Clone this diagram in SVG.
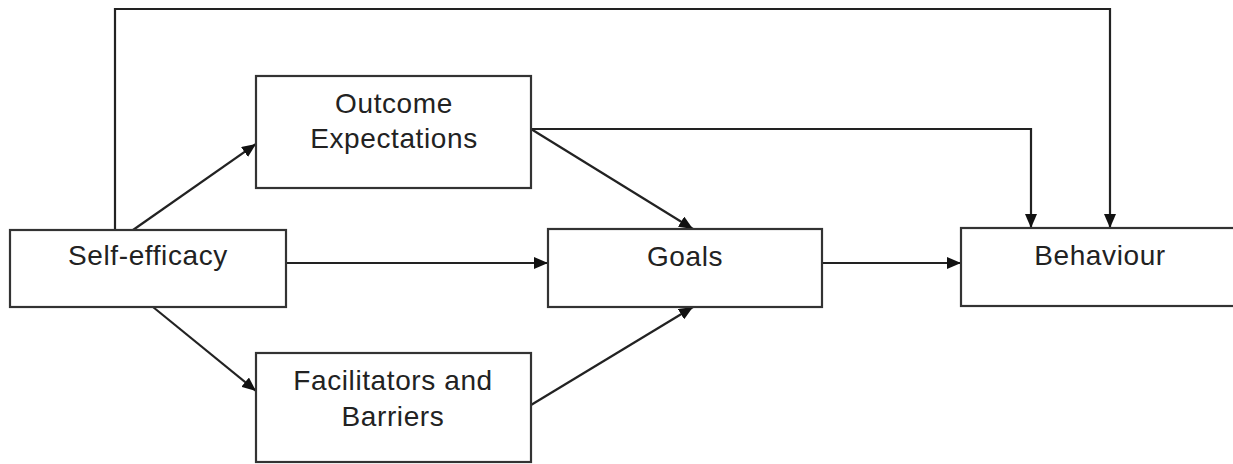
<svg xmlns="http://www.w3.org/2000/svg" width="1233" height="464" viewBox="0 0 1233 464">
  <defs>
    <marker id="arrow" viewBox="0 0 14 12" refX="14" refY="6" markerWidth="14" markerHeight="12" markerUnits="userSpaceOnUse" orient="auto">
      <path d="M0,0 L14,6 L0,12 Z" fill="#111"/>
    </marker>
  </defs>
  <style>
    .box { fill: #fff; stroke: #333; stroke-width: 2.2; }
    .label { font-family: "Liberation Sans", Arial, sans-serif; font-size: 28px; letter-spacing: 0.6px; fill: #222; text-anchor: middle; }
    .link { fill: none; stroke: #222; stroke-width: 2.2; }
  </style>
  <rect width="1233" height="464" fill="#fff"/>

  <g id="connectors">
    <!-- Self-efficacy straight up and over to Behaviour -->
    <polyline class="link" points="115,230 115,9 1110,9 1110,228" marker-end="url(#arrow)"/>
    <!-- Outcome Expectations across to Behaviour -->
    <polyline class="link" points="531,129 1031,129 1031,228" marker-end="url(#arrow)"/>
    <!-- Self-efficacy to Outcome Expectations -->
    <line class="link" x1="133" y1="230" x2="256" y2="144" marker-end="url(#arrow)"/>
    <!-- Self-efficacy to Facilitators and Barriers -->
    <line class="link" x1="153" y1="307" x2="256" y2="391" marker-end="url(#arrow)"/>
    <!-- Self-efficacy to Goals -->
    <line class="link" x1="286" y1="263" x2="548" y2="263" marker-end="url(#arrow)"/>
    <!-- Outcome Expectations to Goals -->
    <line class="link" x1="531" y1="129" x2="693" y2="229" marker-end="url(#arrow)"/>
    <!-- Facilitators and Barriers to Goals -->
    <line class="link" x1="531" y1="405" x2="693" y2="307" marker-end="url(#arrow)"/>
    <!-- Goals to Behaviour -->
    <line class="link" x1="822" y1="263" x2="961" y2="263" marker-end="url(#arrow)"/>
  </g>

  <g id="self-efficacy">
    <rect class="box" x="10" y="230" width="276" height="77"/>
    <text class="label" x="148" y="265">Self-efficacy</text>
  </g>

  <g id="outcome-expectations">
    <rect class="box" x="256" y="76" width="275" height="112"/>
    <text class="label" x="394" y="113">Outcome</text>
    <text class="label" x="394" y="148">Expectations</text>
  </g>

  <g id="facilitators-barriers">
    <rect class="box" x="256" y="353" width="275" height="109"/>
    <text class="label" x="393" y="390">Facilitators and</text>
    <text class="label" x="393" y="426">Barriers</text>
  </g>

  <g id="goals">
    <rect class="box" x="548" y="229" width="274" height="78"/>
    <text class="label" x="685" y="266">Goals</text>
  </g>

  <g id="behaviour">
    <rect class="box" x="961" y="228" width="280" height="78"/>
    <text class="label" x="1100" y="265">Behaviour</text>
  </g>
</svg>
